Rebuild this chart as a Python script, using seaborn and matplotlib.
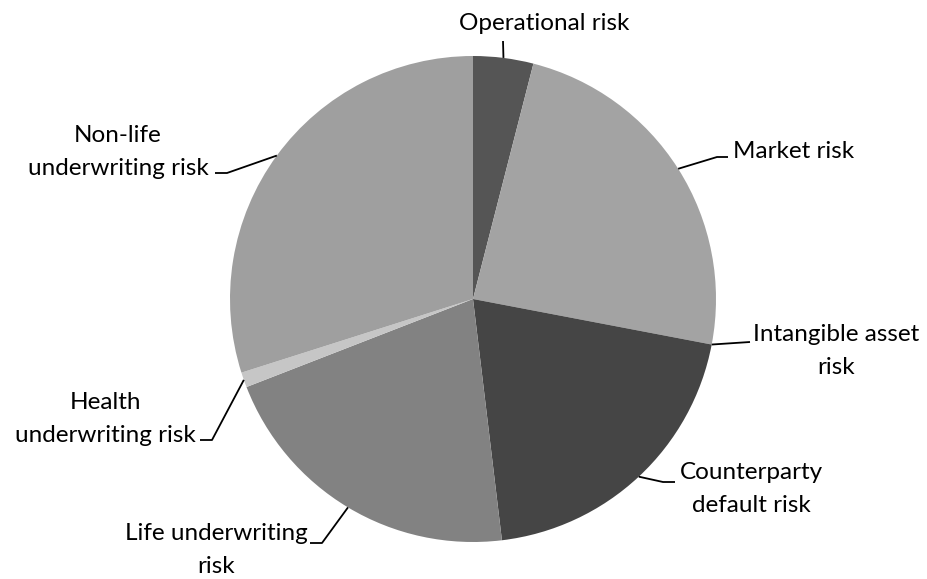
import numpy as np
import matplotlib.pyplot as plt
import seaborn as sns

# risk shares, clockwise from 12 o'clock (percent)
categories = ['Operational risk', 'Market risk', 'Intangible asset\nrisk',
              'Counterparty\ndefault risk', 'Life underwriting\nrisk',
              'Health\nunderwriting risk', 'Non-life\nunderwriting risk']
shares = [4.0, 24.0, 0.0, 20.1, 21.0, 1.0, 29.9]
colors = ['#555555', '#a3a3a3', '#bdbdbd', '#454545', '#828282', '#c6c6c6', '#9f9f9f']

# label layout in pixels: text centre, leader elbow, leader end, text alignment
CX, CY, R = 473, 299, 243
label_layout = [
    ((544, 24), None, (503, 41), 'center'),
    ((733, 152), (717, 157), (728, 157), 'left'),
    ((836, 351), None, (750, 342), 'center'),
    ((751, 489), (663, 482), (675, 482), 'center'),
    ((216, 550), (322, 543), (310, 543), 'center'),
    ((105, 419), (212, 440), (200, 440), 'center'),
    ((118, 152), (227, 173), (215, 173), 'center'),
]


def px(x, y):
    return (x - CX) / R, (CY - y) / R


sns.set_theme(style='white')
plt.rcParams['font.family'] = ['Lato', 'DejaVu Sans']

fig = plt.figure(figsize=(9.27, 5.79), dpi=100)
ax = fig.add_axes([0, 0, 1, 1])
ax.pie(shares, colors=colors, startangle=90, counterclock=False,
       radius=1, center=(0, 0), wedgeprops=dict(linewidth=0))
ax.set_xlim(-CX / R, (927 - CX) / R)
ax.set_ylim(-(579 - CY) / R, CY / R)
ax.set_aspect('equal')
ax.axis('off')

cum = np.cumsum([0] + shares)
for i, (name, (tpos, elbow, end, ha)) in enumerate(zip(categories, label_layout)):
    mid = (cum[i] + cum[i + 1]) / 2 / 100 * 360
    theta = np.deg2rad(90 - mid)
    edge = (np.cos(theta), np.sin(theta))
    pts = [edge]
    if elbow is not None:
        pts.append(px(*elbow))
    pts.append(px(*end))
    xs, ys = zip(*pts)
    ax.plot(xs, ys, color='black', lw=1.3, solid_capstyle='butt')
    tx, ty = px(*tpos)
    ax.text(tx, ty, name, ha=ha, va='center', multialignment='center',
            fontsize=17.5, color='black', linespacing=1.65)

fig.savefig('out.png', dpi=100)
